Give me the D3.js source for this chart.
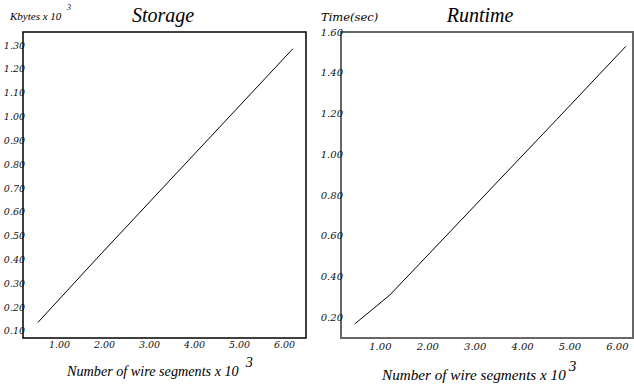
<!DOCTYPE html>
<html><head><meta charset="utf-8">
<script src="https://cdn.jsdelivr.net/npm/d3@7"></script>
<style>body{margin:0;background:#fff}svg{display:block}</style>
</head><body>
<svg id="c" width="634" height="385"></svg>
<script>
// Storage panel data
const storageX = [0.53, 1.84, 6.2];
const storageY = [0.135, 0.404, 1.285];
const storageYTicks = [0.1,0.2,0.3,0.4,0.5,0.6,0.7,0.8,0.9,1.0,1.1,1.2,1.3];
// Runtime panel data
const runtimeX = [0.47, 1.21, 4.73, 6.19];
const runtimeY = [0.166, 0.308, 1.17, 1.53];
const runtimeYTicks = [0.2,0.4,0.6,0.8,1.0,1.2,1.4,1.6];
const xTicks = [1,2,3,4,5,6];

const svg = d3.select("#c");
const fmt = d3.format(".2f");
const serif = "'Liberation Serif','Times New Roman',serif";
const tickFont = "'DejaVu Serif',serif";

function panel(o){
  const g = svg.append("g");
  const x = d3.scaleLinear().domain(o.xd).range([o.l,o.r]);
  const y = d3.scaleLinear().domain(o.yd).range([o.b,o.t]);
  g.append("rect").attr("x",o.l).attr("y",o.t).attr("width",o.r-o.l).attr("height",o.b-o.t)
    .attr("fill","none").attr("stroke",o.frame).attr("stroke-width",o.fw);
  const ya = g.append("g").attr("transform",`translate(${o.l},0)`)
    .call(d3.axisLeft(y).tickValues(o.yt).tickFormat(fmt).tickSize(0).tickPadding(-2));
  ya.select(".domain").remove();
  ya.selectAll("text").attr("font-family",tickFont).attr("font-style","italic")
    .attr("font-size",o.tfs).attr("fill","#111");
  const xa = g.append("g").attr("transform",`translate(0,${o.b})`)
    .call(d3.axisBottom(x).tickValues(xTicks).tickFormat(fmt).tickSize(0).tickPadding(o.xpad));
  xa.select(".domain").remove();
  xa.selectAll("text").attr("font-family",tickFont).attr("font-style","italic")
    .attr("font-size",o.tfs).attr("fill","#111");
  const line = d3.line().x(d=>x(d[0])).y(d=>y(d[1]));
  g.append("path").datum(d3.zip(o.xs,o.ys)).attr("d",line)
    .attr("fill","none").attr("stroke","#000").attr("stroke-width",1);
  // title
  g.append("text").attr("x",o.titleX).attr("y",22).attr("text-anchor","middle")
    .attr("font-family",serif).attr("font-style","italic").attr("font-size",20).text(o.title);
  // x label with superscript
  const xl = g.append("text").attr("x",o.xlX).attr("y",o.xlY)
    .attr("font-family",serif).attr("font-style","italic").attr("font-size",o.xlfs);
  xl.append("tspan").text("Number of wire segments x 10");
  xl.append("tspan").attr("dx",o.supDx).attr("dy",-9).text("3");
  return g;
}

const L = panel({l:23,r:306,t:32,b:338,xd:[0.2,6.49],yd:[0.07,1.355],yt:storageYTicks,
  xs:storageX,ys:storageY,frame:"#000",fw:1.5,tfs:9.5,xpad:3,title:"Storage",titleX:163,
  xlX:67,xlY:376,xlfs:14.2,supDx:7});
L.append("text").attr("x",10).attr("y",20).attr("font-family",serif).attr("font-style","italic")
  .attr("font-size",11).text("Kbytes x 10");
L.append("text").attr("x",67).attr("y",10).attr("font-family",serif).attr("font-style","italic")
  .attr("font-size",8).text("3");

const R = panel({l:341,r:633,t:32,b:338,xd:[0.18,6.34],yd:[0.097,1.6],yt:runtimeYTicks,
  xs:runtimeX,ys:runtimeY,frame:"#666",fw:2,tfs:10,xpad:5,title:"Runtime",titleX:480,
  xlX:382,xlY:380,xlfs:15.2,supDx:3});
R.append("text").attr("x",321).attr("y",21).attr("font-family",tickFont).attr("font-style","italic")
  .attr("font-size",11.5).text("Time(sec)");
</script>
</body></html>
